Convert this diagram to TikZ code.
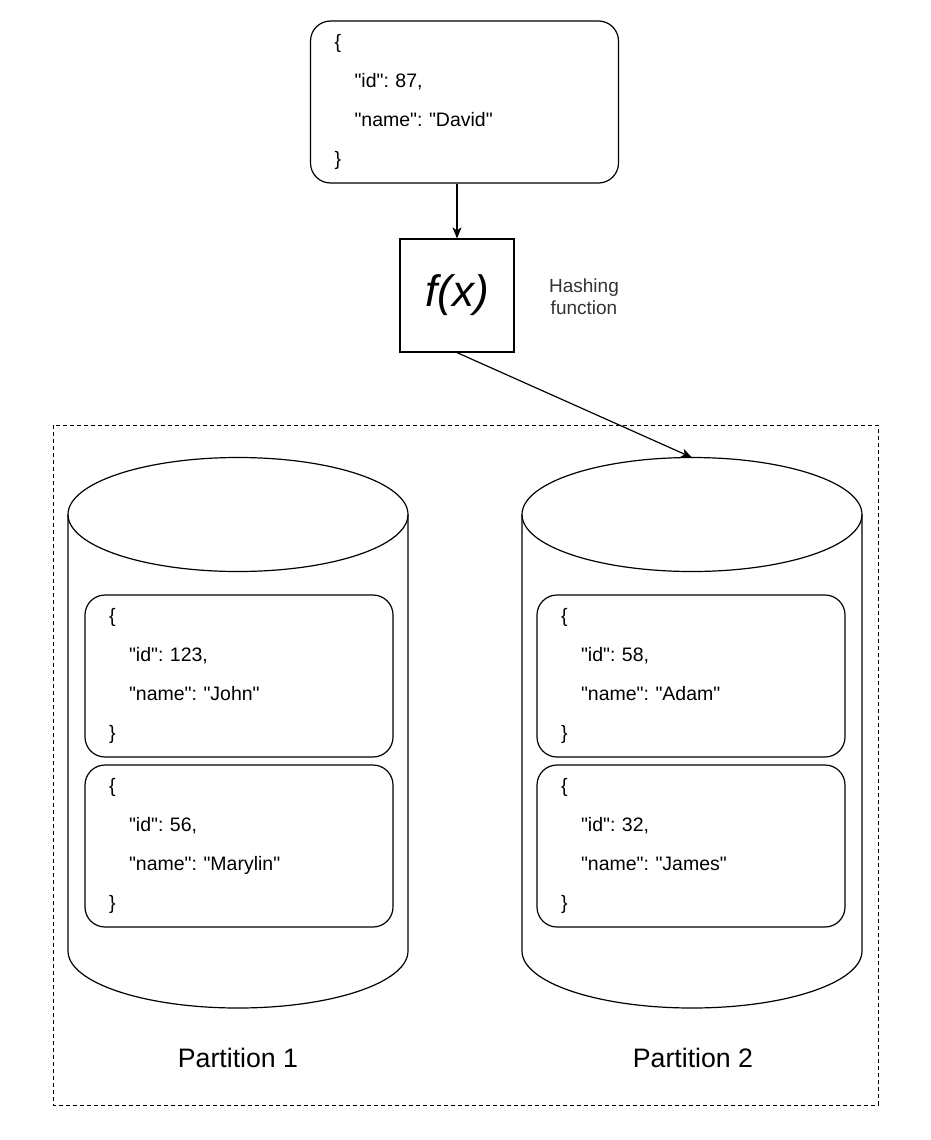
\documentclass[tikz,border=0pt]{standalone}
\usepackage{fontspec}
\setmainfont{Liberation Sans}
\newfontfamily\jsonfont{Liberation Sans}
\frenchspacing
\usetikzlibrary{arrows.meta, shapes.geometric}

\tikzset{
    record/.style={shape=rectangle, rounded corners=20pt,
        minimum width=308pt, minimum height=162pt, text width=260pt,
        inner xsep=24pt, inner ysep=0pt, align=left,
        font=\jsonfont\fontsize{19.5}{39}\selectfont},
    store/.style={shape=ellipse, minimum width=340pt, minimum height=114pt,
        inner sep=0pt, outer sep=0pt}
}

\begin{document}
\begin{tikzpicture}[x=1pt, y=-1pt]
\useasboundingbox (0,0) rectangle (930,1140);

\draw [dash pattern=on 4pt off 3pt, line width=1pt] (53,425) rectangle (878,1105);

\begin{scope}[
    every node/.style={draw=black, line width=1.2pt, fill=white}]
    \node (1) at (464.5,102) [record] {\{\\\hspace*{20pt}"id": 87,\\\hspace*{20pt}"name": "David"\\\}};

    \node (2) at (457,295.5) [shape=rectangle, minimum width=114pt, minimum height=113pt, inner sep=0pt, font=\fontsize{44}{50}\selectfont\itshape] {f(x)};

    \node (3) at (238,514.5) [store] {};

    \node (4) at (692,514.5) [store] {};
\end{scope}

\draw [line width=1.2pt] (3.west) -- ++(0,436.5) arc[start angle=180, end angle=360, x radius=170pt, y radius=57pt] -- (3.east);
\draw [line width=1.2pt] (4.west) -- ++(0,436.5) arc[start angle=180, end angle=360, x radius=170pt, y radius=57pt] -- (4.east);

\begin{scope}[
    every node/.style={draw=black, line width=1.2pt, fill=white}]
    \node (5) at (239,676) [record] {\{\\\hspace*{20pt}"id": 123,\\\hspace*{20pt}"name": "John"\\\}};

    \node (6) at (239,846) [record] {\{\\\hspace*{20pt}"id": 56,\\\hspace*{20pt}"name": "Marylin"\\\}};

    \node (7) at (691,676) [record] {\{\\\hspace*{20pt}"id": 58,\\\hspace*{20pt}"name": "Adam"\\\}};

    \node (8) at (691,846) [record] {\{\\\hspace*{20pt}"id": 32,\\\hspace*{20pt}"name": "James"\\\}};
\end{scope}

\node (9) at (584,297) [align=center, text=black!80, font=\fontsize{19}{22}\selectfont] {Hashing\\function};
\node (10) at (238,1058) [font=\fontsize{26.7}{32}\selectfont] {Partition 1};
\node (11) at (693,1058) [font=\fontsize{26.7}{32}\selectfont] {Partition 2};

\begin{scope}[>={Stealth[length=11pt, width=9pt, inset=3pt]},
              every edge/.style={draw=black, line width=1.2pt}]
    \path [->] (1.south -| 2.north) edge (2.north);
    \path [->] (2.south) edge (4.north);
\end{scope}
\end{tikzpicture}
\end{document}
